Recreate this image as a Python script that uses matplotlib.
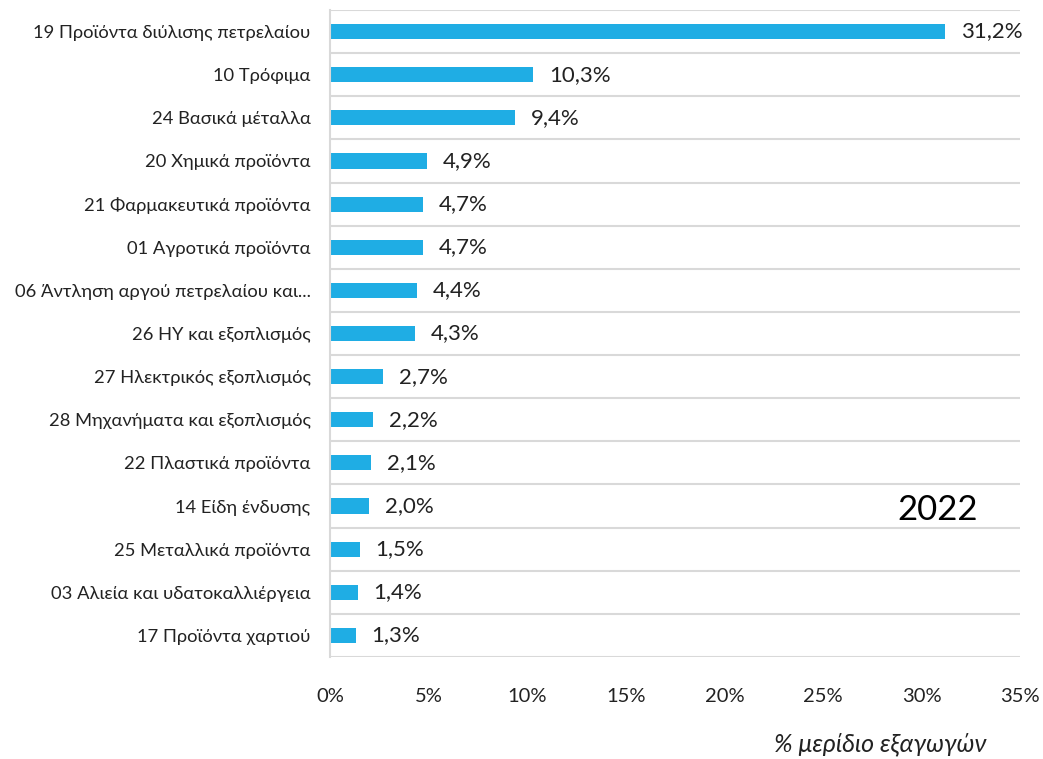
import matplotlib.pyplot as plt
import numpy as np

plt.rcParams['font.family'] = ['Lato', 'DejaVu Sans']

categories = [
    "19 Προϊόντα διύλισης πετρελαίου",
    "10 Τρόφιμα",
    "24 Βασικά μέταλλα",
    "20 Χημικά προϊόντα",
    "21 Φαρμακευτικά προϊόντα",
    "01 Αγροτικά προϊόντα",
    "06 Άντληση αργού πετρελαίου και...",
    "26 ΗΥ και εξοπλισμός",
    "27 Ηλεκτρικός εξοπλισμός",
    "28 Μηχανήματα και εξοπλισμός",
    "22 Πλαστικά προϊόντα",
    "14 Είδη ένδυσης",
    "25 Μεταλλικά προϊόντα",
    "03 Αλιεία και υδατοκαλλιέργεια",
    "17 Προϊόντα χαρτιού",
]
shares = [31.2, 10.3, 9.4, 4.9, 4.7, 4.7, 4.4, 4.3, 2.7, 2.2, 2.1, 2.0, 1.5, 1.4, 1.3]

fig = plt.figure(figsize=(10.43, 7.59), dpi=100)
ax = fig.add_axes([0.3164, 0.1344, 0.6616, 0.8524])

y = np.arange(len(categories))
ax.barh(y, shares, height=0.35, color='#1FADE4')
for yi, v in zip(y, shares):
    ax.text(v + 0.8, yi, f"{v:.1f}%".replace('.', ','), va='center', ha='left',
            fontsize=16, color='#222222')

ax.set_ylim(len(categories) - 0.5, -0.5)
ax.set_xlim(0, 35)
ax.set_yticks(y)
ax.set_yticklabels(categories, fontsize=13.2, color='#222222')
ax.set_xticks(np.arange(0, 36, 5))
ax.set_xticklabels([f"{t}%" for t in range(0, 36, 5)], fontsize=14.5, color='#222222')
ax.set_yticks(np.arange(-0.5, len(categories), 1), minor=True)
ax.grid(axis='y', which='minor', color='#D9D9D9', linewidth=1.5)
ax.tick_params(axis='both', which='both', length=0)
ax.tick_params(axis='y', pad=14)
ax.tick_params(axis='x', pad=22)
for s in ['top', 'right', 'bottom']:
    ax.spines[s].set_visible(False)
ax.spines['left'].set_color('#D9D9D9')
ax.spines['left'].set_linewidth(1.5)
ax.set_axisbelow(True)

ax.text(0.88, 0.227, "2022", transform=ax.transAxes, fontsize=25, ha='center', va='center')
fig.text(0.844, 0.02, "% μερίδιο εξαγωγών", fontsize=18, style='italic', ha='center', va='center',
         color='#222222')

fig.savefig('out.png', dpi=100)
